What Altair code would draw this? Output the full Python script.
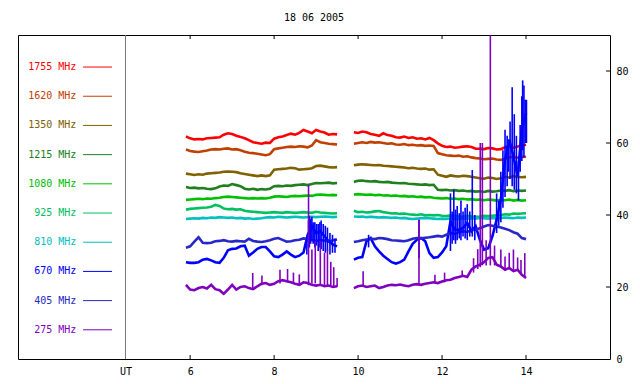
import altair as alt
import pandas as pd

title_text = "18 06 2005"
mono = "DejaVu Sans Mono"

freqs = ["1755 MHz", "1620 MHz", "1350 MHz", "1215 MHz", "1080 MHz",
         "925 MHz", "810 MHz", "670 MHz", "405 MHz", "275 MHz"]
colors = ["#ff0000", "#c04000", "#806000", "#208020", "#00c000",
          "#00c060", "#00c0c0", "#0000ff", "#2828c8", "#8000c0"]

t_a = [5.9, 6.0, 6.1, 6.2, 6.3, 6.4, 6.5, 6.6, 6.7, 6.8, 6.9, 7.0, 7.1, 7.2, 7.3,
       7.4, 7.5, 7.6, 7.7, 7.8, 7.9, 8.0, 8.1, 8.2, 8.3, 8.4, 8.5, 8.6, 8.7, 8.8,
       8.9, 9.0, 9.1, 9.2, 9.3, 9.4, 9.5]
t_b = [9.9, 10.0, 10.1, 10.2, 10.3, 10.4, 10.5, 10.6, 10.7, 10.8, 10.9, 11.0, 11.1,
       11.2, 11.3, 11.4, 11.5, 11.6, 11.7, 11.8, 11.9, 12.0, 12.1, 12.2, 12.3, 12.4,
       12.5, 12.6, 12.7, 12.8, 12.9, 13.0, 13.1, 13.2, 13.3, 13.4, 13.5, 13.6, 13.7,
       13.8, 13.9, 14.0]

f1755_a = [61.8, 61.3, 61.0, 61.1, 61.0, 61.3, 61.4, 61.5, 61.6, 62.3, 62.7, 62.5, 62.0,
           61.7, 61.3, 60.8, 60.2, 60.0, 59.8, 60.1, 60.0, 61.2, 61.6, 61.8, 62.2, 62.6,
           62.3, 62.8, 63.6, 63.2, 62.7, 63.6, 63.2, 62.9, 62.3, 62.5, 62.4]
f1755_b = [63.0, 62.8, 63.2, 63.0, 62.5, 62.3, 62.0, 62.7, 62.2, 62.0, 61.6, 61.5, 61.8,
           61.4, 61.6, 61.2, 61.3, 61.0, 61.4, 60.8, 59.9, 59.2, 58.9, 59.0, 58.7, 58.8,
           59.0, 59.1, 58.9, 58.4, 58.4, 58.3, 58.6, 58.5, 58.2, 58.3, 58.8, 59.0, 58.7,
           59.0, 59.3, 59.5]
f1620_a = [58.2, 57.8, 57.6, 57.5, 57.7, 57.9, 58.2, 58.3, 58.2, 58.4, 58.5, 58.2, 58.3,
           58.0, 57.6, 57.3, 57.2, 57.0, 56.8, 56.6, 56.9, 58.3, 58.5, 58.7, 58.9, 59.0,
           58.9, 59.1, 59.0, 58.8, 59.3, 60.8, 60.2, 60.0, 59.8, 59.7, 59.6]
f1620_b = [59.8, 60.0, 60.2, 60.0, 60.3, 60.1, 60.2, 60.0, 59.8, 59.9, 59.6, 59.5, 59.7,
           59.4, 59.5, 59.3, 59.4, 59.2, 59.3, 59.2, 57.2, 56.9, 56.6, 56.5, 56.4, 56.5,
           56.2, 56.3, 56.0, 55.8, 55.7, 55.5, 55.6, 55.7, 55.4, 55.3, 55.6, 56.0, 56.2,
           55.9, 56.1, 56.2]
f1350_a = [51.5, 51.3, 51.1, 51.3, 51.2, 51.5, 51.6, 51.7, 51.8, 52.0, 52.1, 52.0, 51.9,
           51.6, 51.4, 51.2, 51.0, 50.8, 51.0, 50.8, 51.0, 52.6, 52.7, 52.8, 52.9, 53.1,
           53.0, 52.6, 52.7, 52.8, 53.0, 53.6, 53.7, 53.5, 53.3, 53.2, 53.3]
f1350_b = [53.8, 54.0, 54.1, 54.0, 53.9, 53.8, 53.9, 53.7, 53.6, 53.5, 53.4, 53.3, 53.2,
           53.0, 53.1, 52.9, 52.8, 52.9, 52.6, 52.7, 51.2, 50.9, 50.6, 51.0, 50.8, 50.7,
           50.9, 50.8, 50.6, 50.4, 50.2, 50.1, 50.4, 50.3, 50.0, 50.2, 50.6, 50.4, 50.8,
           50.6, 50.5, 50.6]
f1215_a = [47.8, 47.5, 47.6, 47.4, 47.5, 47.3, 47.2, 47.4, 47.9, 48.2, 48.1, 48.6, 48.3,
           48.0, 47.3, 47.1, 47.3, 47.0, 47.2, 47.1, 47.3, 48.0, 48.1, 48.0, 48.2, 48.1,
           48.3, 48.4, 48.5, 48.3, 48.6, 48.9, 48.8, 48.9, 49.0, 48.8, 48.9]
f1215_b = [49.2, 49.5, 49.6, 49.4, 49.3, 49.4, 49.2, 49.1, 49.2, 49.0, 48.9, 48.8, 48.9,
           48.7, 48.6, 48.5, 48.4, 48.5, 48.3, 48.4, 47.0, 46.9, 47.0, 46.8, 46.9, 46.7,
           46.8, 46.6, 46.7, 46.5, 46.6, 46.4, 46.7, 46.5, 46.6, 46.8, 46.7, 46.9, 46.6,
           46.8, 46.7, 46.8]
f1080_a = [44.2, 44.3, 44.4, 44.5, 44.4, 44.6, 44.5, 44.7, 44.8, 45.0, 45.1, 45.0, 44.9,
           44.8, 44.7, 44.6, 44.7, 44.6, 44.7, 44.6, 44.8, 45.1, 45.2, 45.1, 45.0, 45.2,
           45.3, 45.2, 45.3, 45.4, 45.3, 45.6, 45.7, 45.6, 45.5, 45.6, 45.5]
f1080_b = [45.7, 45.8, 45.7, 45.6, 45.7, 45.5, 45.6, 45.4, 45.5, 45.3, 45.4, 45.2, 45.3,
           45.1, 45.2, 45.0, 45.1, 44.9, 45.0, 44.8, 44.7, 44.6, 44.7, 44.5, 44.6, 44.4,
           44.5, 44.3, 44.4, 44.2, 44.3, 44.1, 44.3, 44.2, 44.0, 44.2, 44.1, 44.3, 44.0,
           44.2, 44.0, 44.1]
f925_a = [41.5, 41.7, 41.8, 41.9, 42.0, 42.1, 42.3, 42.8, 42.5, 41.8, 41.6, 41.7, 41.5,
          41.6, 41.2, 41.0, 40.9, 40.8, 40.7, 40.6, 40.7, 40.8, 40.7, 40.6, 40.8, 40.7,
          40.6, 40.7, 40.8, 40.7, 40.6, 40.9, 40.7, 40.6, 40.5, 40.4, 40.5]
f925_b = [41.2, 40.8, 40.9, 40.7, 40.8, 41.0, 41.1, 40.8, 40.6, 40.4, 40.5, 40.3, 40.4,
          40.2, 40.1, 40.0, 40.2, 39.9, 40.0, 39.9, 40.0, 39.8, 39.7, 39.9, 39.7, 39.6,
          39.5, 39.8, 39.6, 39.5, 39.6, 39.8, 39.7, 39.8, 39.9, 40.0, 40.2, 40.1, 40.4,
          40.3, 40.4, 40.5]
f810_a = [38.9, 39.0, 39.1, 39.0, 39.2, 39.1, 39.3, 39.2, 39.4, 39.3, 39.2, 39.3, 39.1,
          39.2, 39.0, 39.1, 38.9, 39.0, 39.1, 39.3, 39.4, 39.3, 39.5, 39.4, 39.3, 39.4,
          39.5, 39.4, 39.3, 39.4, 39.5, 39.4, 39.5, 39.6, 39.5, 39.4, 39.5]
f810_b = [39.6, 39.5, 39.6, 39.4, 39.5, 39.4, 39.3, 39.4, 39.3, 39.2, 39.3, 39.1, 39.2,
          39.0, 38.9, 39.0, 39.1, 39.2, 39.1, 39.0, 38.9, 39.0, 38.9, 39.1, 39.0, 38.9,
          39.1, 39.0, 39.1, 39.0, 39.2, 39.1, 39.0, 39.2, 39.1, 39.2, 39.3, 39.2, 39.1,
          39.3, 39.2, 39.3]
f670_a = [26.9, 26.7, 26.7, 26.9, 27.6, 27.8, 27.4, 26.9, 26.7, 28.1, 30.2, 30.6, 30.7,
          31.3, 31.5, 28.7, 29.6, 30.6, 31.1, 31.1, 29.9, 28.5, 28.3, 29.0, 29.9, 29.0,
          28.3, 28.7, 29.6, 34.5, 36.9, 35.0, 35.5, 34.1, 32.7, 31.8, 31.3]
f670_b = [27.6, 28.1, 28.3, 32.7, 33.6, 31.3, 29.9, 28.7, 27.8, 26.9, 26.5, 26.9, 27.6,
          29.9, 32.0, 33.1, 33.6, 32.7, 29.4, 28.1, 28.3, 29.6, 31.3, 38.2, 35.9, 35.9,
          36.4, 37.8, 35.5, 36.9, 33.1, 30.4, 30.8, 34.1, 38.7, 44.3, 55.4, 60.9, 56.3,
          50.7, 63.7, 68.3]
f405_a = [30.9, 31.3, 32.6, 33.8, 32.3, 32.2, 32.3, 32.7, 32.8, 33.0, 32.7, 32.6, 32.8,
          32.7, 32.6, 33.4, 32.8, 32.6, 32.5, 32.7, 33.0, 33.4, 33.6, 33.1, 32.6, 32.7,
          33.0, 33.1, 33.5, 33.3, 33.0, 32.8, 33.0, 32.9, 32.6, 33.0, 33.2]
f405_b = [32.5, 32.7, 33.0, 33.2, 33.4, 33.3, 33.6, 33.5, 33.3, 33.0, 32.9, 32.8, 32.7,
          33.0, 33.4, 33.6, 33.5, 33.7, 33.8, 34.0, 34.2, 34.0, 34.5, 35.0, 34.8, 35.2,
          35.5, 35.3, 35.8, 36.0, 36.3, 36.8, 37.2, 37.0, 36.8, 36.5, 36.2, 35.8, 35.2,
          34.8, 33.6, 33.3]
f275_a = [20.6, 19.3, 19.1, 19.7, 20.0, 19.6, 20.6, 19.4, 19.1, 18.1, 19.3, 20.6, 19.3,
          20.0, 20.2, 19.7, 19.4, 20.2, 20.9, 21.1, 20.6, 20.9, 21.6, 21.9, 21.6, 21.3,
          20.9, 20.6, 21.3, 21.1, 20.6, 20.4, 20.6, 20.2, 20.4, 20.0, 20.2]
f275_b = [19.7, 20.2, 20.4, 20.0, 20.2, 20.4, 19.7, 20.0, 20.4, 20.6, 20.5, 20.7, 20.4,
          20.2, 20.6, 20.8, 20.6, 20.9, 21.1, 21.3, 21.1, 21.5, 21.9, 22.0, 22.5, 22.8,
          23.1, 22.8, 24.8, 25.7, 26.2, 26.9, 28.1, 28.3, 26.2, 25.7, 24.8, 25.3, 24.4,
          24.8, 23.4, 22.5]

spk670_t = [8.78, 8.82, 8.84, 8.87, 8.90, 8.93, 8.97, 9.01, 9.05, 9.09, 9.12, 9.17, 9.22,
            9.27, 9.33, 9.39, 9.45, 10.25, 11.45, 12.20, 12.24, 12.28, 12.32, 12.36, 12.41,
            12.45, 12.50, 12.55, 12.60, 12.66, 12.72, 12.78, 13.30, 13.35, 13.40, 13.45,
            13.50, 13.55, 13.58, 13.62, 13.67, 13.72, 13.77, 13.82, 13.86, 13.90, 13.92,
            13.95, 13.98, 14.01]
spk670_lo = [29.0, 31.0, 31.0, 32.0, 33.0, 32.0, 31.0, 31.5, 30.0, 31.0, 30.5, 30.0, 29.5,
             30.0, 29.0, 29.5, 29.5, 31.0, 28.0, 30.0, 32.0, 33.0, 32.0, 33.0, 33.5, 33.0,
             34.0, 33.5, 33.0, 34.0, 34.0, 33.0, 35.0, 37.0, 38.0, 42.0, 45.0, 48.0, 52.0,
             50.0, 48.0, 47.0, 46.0, 44.0, 52.0, 55.0, 58.0, 56.0, 60.0, 60.0]
spk670_hi = [34.0, 38.5, 39.8, 39.0, 39.5, 38.0, 38.0, 37.5, 37.5, 38.0, 38.5, 37.5, 37.0,
             36.5, 35.0, 34.5, 33.5, 34.5, 38.7, 46.0, 41.0, 47.0, 41.5, 42.5, 40.5, 44.0,
             41.0, 42.0, 43.0, 41.0, 52.5, 40.0, 46.0, 44.0, 52.0, 58.0, 63.7, 62.0, 61.0,
             66.0, 75.5, 68.0, 62.0, 55.0, 65.0, 73.0, 77.4, 76.0, 72.0, 72.0]
spk275_t = [7.49, 7.71, 8.14, 8.32, 8.46, 8.60, 8.82, 8.90, 8.98, 9.10, 9.20, 9.27, 9.35,
            9.42, 9.50, 10.12, 11.45, 11.83, 12.06, 12.48, 12.75, 12.85, 12.91, 12.96,
            13.05, 13.15, 13.25, 13.40, 13.50, 13.60, 13.70, 13.80, 13.88, 13.97]
spk275_lo = [19.5, 20.5, 21.0, 21.3, 21.0, 20.5, 20.5, 21.0, 21.0, 20.8, 20.5, 20.5, 20.3,
             20.0, 20.0, 20.2, 20.5, 21.0, 21.3, 22.8, 24.0, 25.0, 25.5, 26.0, 26.0, 26.0,
             26.0, 25.5, 24.8, 25.0, 24.5, 24.5, 23.5, 22.5]
spk275_hi = [23.9, 23.2, 24.8, 25.0, 24.0, 23.5, 48.4, 30.4, 32.7, 32.7, 29.5, 30.4, 27.0,
             25.5, 22.5, 24.4, 38.7, 23.4, 24.0, 24.6, 28.0, 30.5, 60.0, 60.0, 33.0, 90.0,
             31.5, 30.4, 28.5, 29.5, 30.4, 28.2, 27.5, 29.4]

x_ticks = [6, 8, 10, 12, 14]
y_ticks = [0, 20, 40, 60, 80]
ut_pos = 4.46
x_dom = [1.9, 16.0]
y_dom = [0, 90]

# legend layout (in data units)
legend_top = 81.1
legend_step = 8.11
legend_text_x = 3.29
legend_line_x0 = 3.45
legend_line_x1 = 4.14

series_a = [f1755_a, f1620_a, f1350_a, f1215_a, f1080_a, f925_a, f810_a, f670_a, f405_a, f275_a]
series_b = [f1755_b, f1620_b, f1350_b, f1215_b, f1080_b, f925_b, f810_b, f670_b, f405_b, f275_b]

rows = []
for name, va, vb in zip(freqs, series_a, series_b):
    for t, v in zip(t_a, va):
        rows.append({"freq": name, "seg": "a", "t": t, "v": v})
    for t, v in zip(t_b, vb):
        rows.append({"freq": name, "seg": "b", "t": t, "v": v})
lines_df = pd.DataFrame(rows)

spk_rows = []
for t, lo, hi in zip(spk670_t, spk670_lo, spk670_hi):
    spk_rows.append({"freq": "670 MHz", "t": t, "lo": lo, "hi": hi})
for t, lo, hi in zip(spk275_t, spk275_lo, spk275_hi):
    spk_rows.append({"freq": "275 MHz", "t": t, "lo": lo, "hi": hi})
spk_df = pd.DataFrame(spk_rows)

leg_df = pd.DataFrame({
    "freq": freqs,
    "ly": [legend_top - i * legend_step for i in range(len(freqs))],
    "lx": [legend_text_x] * len(freqs),
    "x0": [legend_line_x0] * len(freqs),
    "x1": [legend_line_x1] * len(freqs),
})

tick_len_x = 4 / 42.0
tick_len_y = 4 / 3.6
xt_rows = []
for t in x_ticks:
    xt_rows.append({"x": t, "y": y_dom[0], "y2": y_dom[0] + tick_len_y})
    xt_rows.append({"x": t, "y": y_dom[1], "y2": y_dom[1] - tick_len_y})
xt_df = pd.DataFrame(xt_rows)
yt_df = pd.DataFrame({"y": y_ticks[1:], "x": [x_dom[1]] * 4,
                      "x2": [x_dom[1] - tick_len_x] * 4})

xs = alt.Scale(domain=x_dom, nice=False, zero=False)
ys = alt.Scale(domain=y_dom, nice=False, zero=False)
cs = alt.Scale(domain=freqs, range=colors)

x_axis = alt.Axis(values=[ut_pos] + x_ticks, ticks=False, domain=False, grid=False,
                  labelExpr="datum.value < 5 ? 'UT' : format(datum.value, 'd')",
                  labelFont=mono, labelFontSize=10, labelColor="black",
                  labelPadding=7, title=None)
y_axis = alt.Axis(values=y_ticks, orient="right", ticks=False, domain=False, grid=False,
                  labelFont=mono, labelFontSize=10, labelColor="black",
                  labelPadding=6, title=None)


def X(f):
    return alt.X(f, type="quantitative", scale=xs, axis=x_axis)


def Y(f):
    return alt.Y(f, type="quantitative", scale=ys, axis=y_axis)


color_enc = alt.Color("freq:N", scale=cs, legend=None)

sep = alt.Chart(pd.DataFrame({"x": [ut_pos]})).mark_rule(color="#777777", strokeWidth=1).encode(
    x=X("x"))

lines = alt.Chart(lines_df).mark_line(strokeWidth=2.6, clip=True).encode(
    x=X("t"), y=Y("v"), color=color_enc, detail="seg:N")

spikes = alt.Chart(spk_df).mark_rule(strokeWidth=1.6, clip=True).encode(
    x=X("t"), y=Y("lo"), y2="hi:Q", color=color_enc)

leg_text = alt.Chart(leg_df).mark_text(align="right", baseline="middle", font=mono,
                                       fontSize=10).encode(
    x=X("lx"), y=Y("ly"), text="freq:N", color=color_enc)

leg_line = alt.Chart(leg_df).mark_rule(strokeWidth=1).encode(
    x=X("x0"), x2="x1:Q", y=Y("ly"), color=color_enc)

xt = alt.Chart(xt_df).mark_rule(color="black", strokeWidth=1).encode(
    x=X("x"), y=Y("y"), y2="y2:Q")
yt = alt.Chart(yt_df).mark_rule(color="black", strokeWidth=1).encode(
    x=X("x"), x2="x2:Q", y=Y("y"))

chart = alt.layer(sep, lines, spikes, leg_line, leg_text, xt, yt).properties(
    width=592, height=324,
    title=alt.TitleParams(title_text, font=mono, fontSize=10, fontWeight="normal",
                          color="black", anchor="middle", offset=12),
    padding={"left": 10, "top": 27, "right": 22, "bottom": 17},
    autosize=alt.AutoSizeParams(type="none"),
).configure_view(stroke="black", strokeWidth=1)

chart.save("out.html", embed_options={"renderer": "svg", "actions": False})
